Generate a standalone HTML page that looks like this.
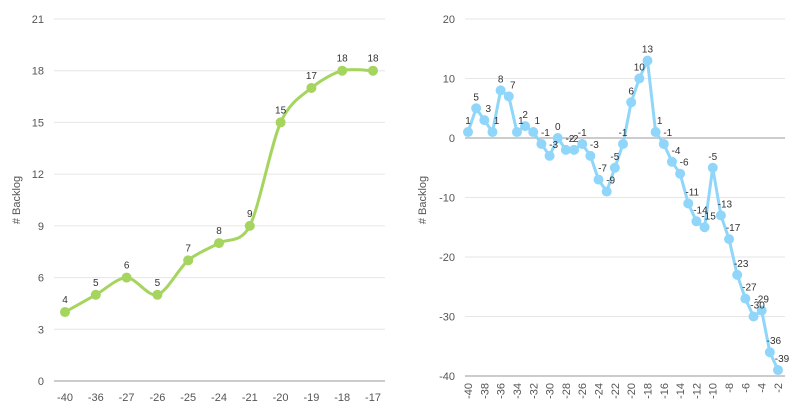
<!DOCTYPE html>
<html><head><meta charset="utf-8"><style>
body{margin:0;background:#fff;}
svg{display:block;font-family:"Liberation Sans",sans-serif;}
</style></head><body>
<svg id="s" width="795" height="414" viewBox="0 0 795 414"></svg>
<script>
var s=document.getElementById('s'),h='';
function t(x,y,txt,o){h+='<text x="'+x+'" y="'+y+'" '+(o||'')+'>'+txt+'</text>';}
// LEFT
var L0=381,Lu=362/21;
for(var v=0;v<=21;v+=3){var y=L0-v*Lu;h+='<line x1="54" x2="385" y1="'+y+'" y2="'+y+'" stroke="'+(v==0?'#999':'#e6e6e6')+'" stroke-width="1"/>';t(44,y+4,v,'font-size="11" fill="#555" text-anchor="end"');}
t(0,0,'# Backlog','font-size="11" fill="#555" transform="translate(20,200) rotate(-90)" text-anchor="middle"');
var lx=[-40,-36,-27,-26,-25,-24,-21,-20,-19,-18,-17],ly=[4,5,6,5,7,8,9,15,17,18,18];
var P=lx.map(function(c,i){return [65+i*30.8,L0-ly[i]*Lu];});
var d='M'+P[0];
for(var i=0;i<P.length-1;i++){var p0=P[i-1]||P[i],p1=P[i],p2=P[i+1],p3=P[i+2]||p2,k=0.15;
d+=' C'+(p1[0]+(p2[0]-p0[0])*k)+','+(p1[1]+(p2[1]-p0[1])*k)+' '+(p2[0]-(p3[0]-p1[0])*k)+','+(p2[1]-(p3[1]-p1[1])*k)+' '+p2;}
h+='<path d="'+d+'" fill="none" stroke="#a5d55f" stroke-width="3"/>';
P.forEach(function(p,i){h+='<circle cx="'+p[0]+'" cy="'+p[1]+'" r="5" fill="#a5d55f"/>';t(p[0],p[1]-9,ly[i],'font-size="10" fill="#333" text-anchor="middle"');t(p[0],401,lx[i],'font-size="11" fill="#555" text-anchor="middle"');});
// RIGHT
var R0=138,Ru=5.95;
for(var v=-40;v<=20;v+=10){var y=R0-v*Ru;h+='<line x1="465" x2="785" y1="'+y+'" y2="'+y+'" stroke="'+(v==0||v==-40?'#999':'#e6e6e6')+'" stroke-width="1"/>';t(455,y+4,v,'font-size="11" fill="#555" text-anchor="end"');}
t(0,0,'# Backlog','font-size="11" fill="#555" transform="translate(426,200) rotate(-90)" text-anchor="middle"');
var rv=[1,5,3,1,8,7,1,2,1,-1,-3,0,-2,-2,-1,-3,-7,-9,-5,-1,6,10,13,1,-1,-4,-6,-11,-14,-15,-5,-13,-17,-23,-27,-30,-29,-36,-39];
var dx=(778-468)/38,Q=rv.map(function(v,i){return [468+i*dx,R0-v*Ru];});
h+='<polyline points="'+Q.join(' ')+'" fill="none" stroke="#8fd6fa" stroke-width="3"/>';
Q.forEach(function(p,i){h+='<circle cx="'+p[0]+'" cy="'+p[1]+'" r="5" fill="#8fd6fa"/>';});
Q.forEach(function(p,i){t(p[0]+(i>0&&rv[i]<rv[i-1]?4:0),p[1]-8,rv[i],'font-size="10" fill="#333" text-anchor="middle"');});
for(var c=-40;c<=-2;c+=2){var x=468+(c+40)*dx;t(0,0,c,'font-size="11" fill="#555" text-anchor="end" transform="translate('+(x+4)+',383) rotate(-90)"');}
s.innerHTML=h;
</script>
</body></html>
